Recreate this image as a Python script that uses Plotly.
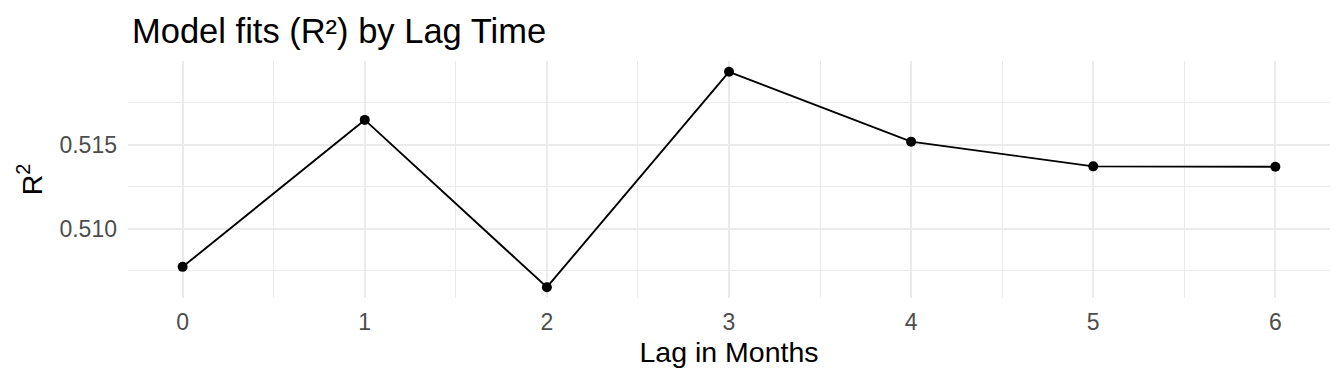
import plotly.graph_objects as go

lag_months = [0, 1, 2, 3, 4, 5, 6]
r_squared = [0.50774, 0.51647, 0.50653, 0.51933, 0.51518, 0.51371, 0.51369]

x_tickvals = [0, 1, 2, 3, 4, 5, 6]
x_ticktext = ["0", "1", "2", "3", "4", "5", "6"]
y_tickvals = [0.510, 0.515]
y_ticktext = ["0.510", "0.515"]

FONT = "Arial, Liberation Sans, sans-serif"
GRID = "#EBEBEB"

fig = go.Figure(
    go.Scatter(
        x=lag_months, y=r_squared, mode="lines+markers",
        line=dict(color="black", width=1.9),
        marker=dict(color="black", size=10),
        showlegend=False,
    )
)

xmin, xmax = min(lag_months), max(lag_months)
xpad = (xmax - xmin) * 0.05
ymin, ymax = min(r_squared), max(r_squared)
ypad = (ymax - ymin) * 0.05

fig.update_layout(
    width=1344, height=384,
    margin=dict(l=128, r=14, t=61, b=86),
    paper_bgcolor="white", plot_bgcolor="white",
    font=dict(family=FONT, color="black"),
    title=dict(
        text="Model fits (R²) by Lag Time",
        font=dict(size=34.5, color="black", family=FONT),
        x=132 / 1344, xref="container", xanchor="left",
        y=1 - 31 / 384, yref="container", yanchor="middle",
    ),
    xaxis=dict(
        range=[xmin - xpad, xmax + xpad],
        tickmode="array", tickvals=x_tickvals, ticktext=x_ticktext,
        tickfont=dict(size=23, color="#4D4D4D"),
        showgrid=True, gridcolor=GRID, gridwidth=2,
        minor=dict(tickmode="linear", tick0=0.5, dtick=1, showgrid=True, gridcolor=GRID, gridwidth=1),
        zeroline=False, showline=False, ticks="", ticklabelstandoff=8,
        title=dict(text="Lag in Months", font=dict(size=28.5, color="black"), standoff=8),
    ),
    yaxis=dict(
        range=[ymin - ypad, ymax + ypad],
        tickmode="array", tickvals=y_tickvals, ticktext=y_ticktext,
        tickfont=dict(size=23, color="#4D4D4D"),
        showgrid=True, gridcolor=GRID, gridwidth=2,
        minor=dict(tickmode="linear", tick0=0.5075, dtick=0.005, showgrid=True, gridcolor=GRID, gridwidth=1),
        zeroline=False, showline=False, ticks="", ticklabelstandoff=10,
        title=dict(text="R<sup>2</sup>", font=dict(size=28.5, color="black"), standoff=8),
    ),
)

fig.write_html("out.html")
